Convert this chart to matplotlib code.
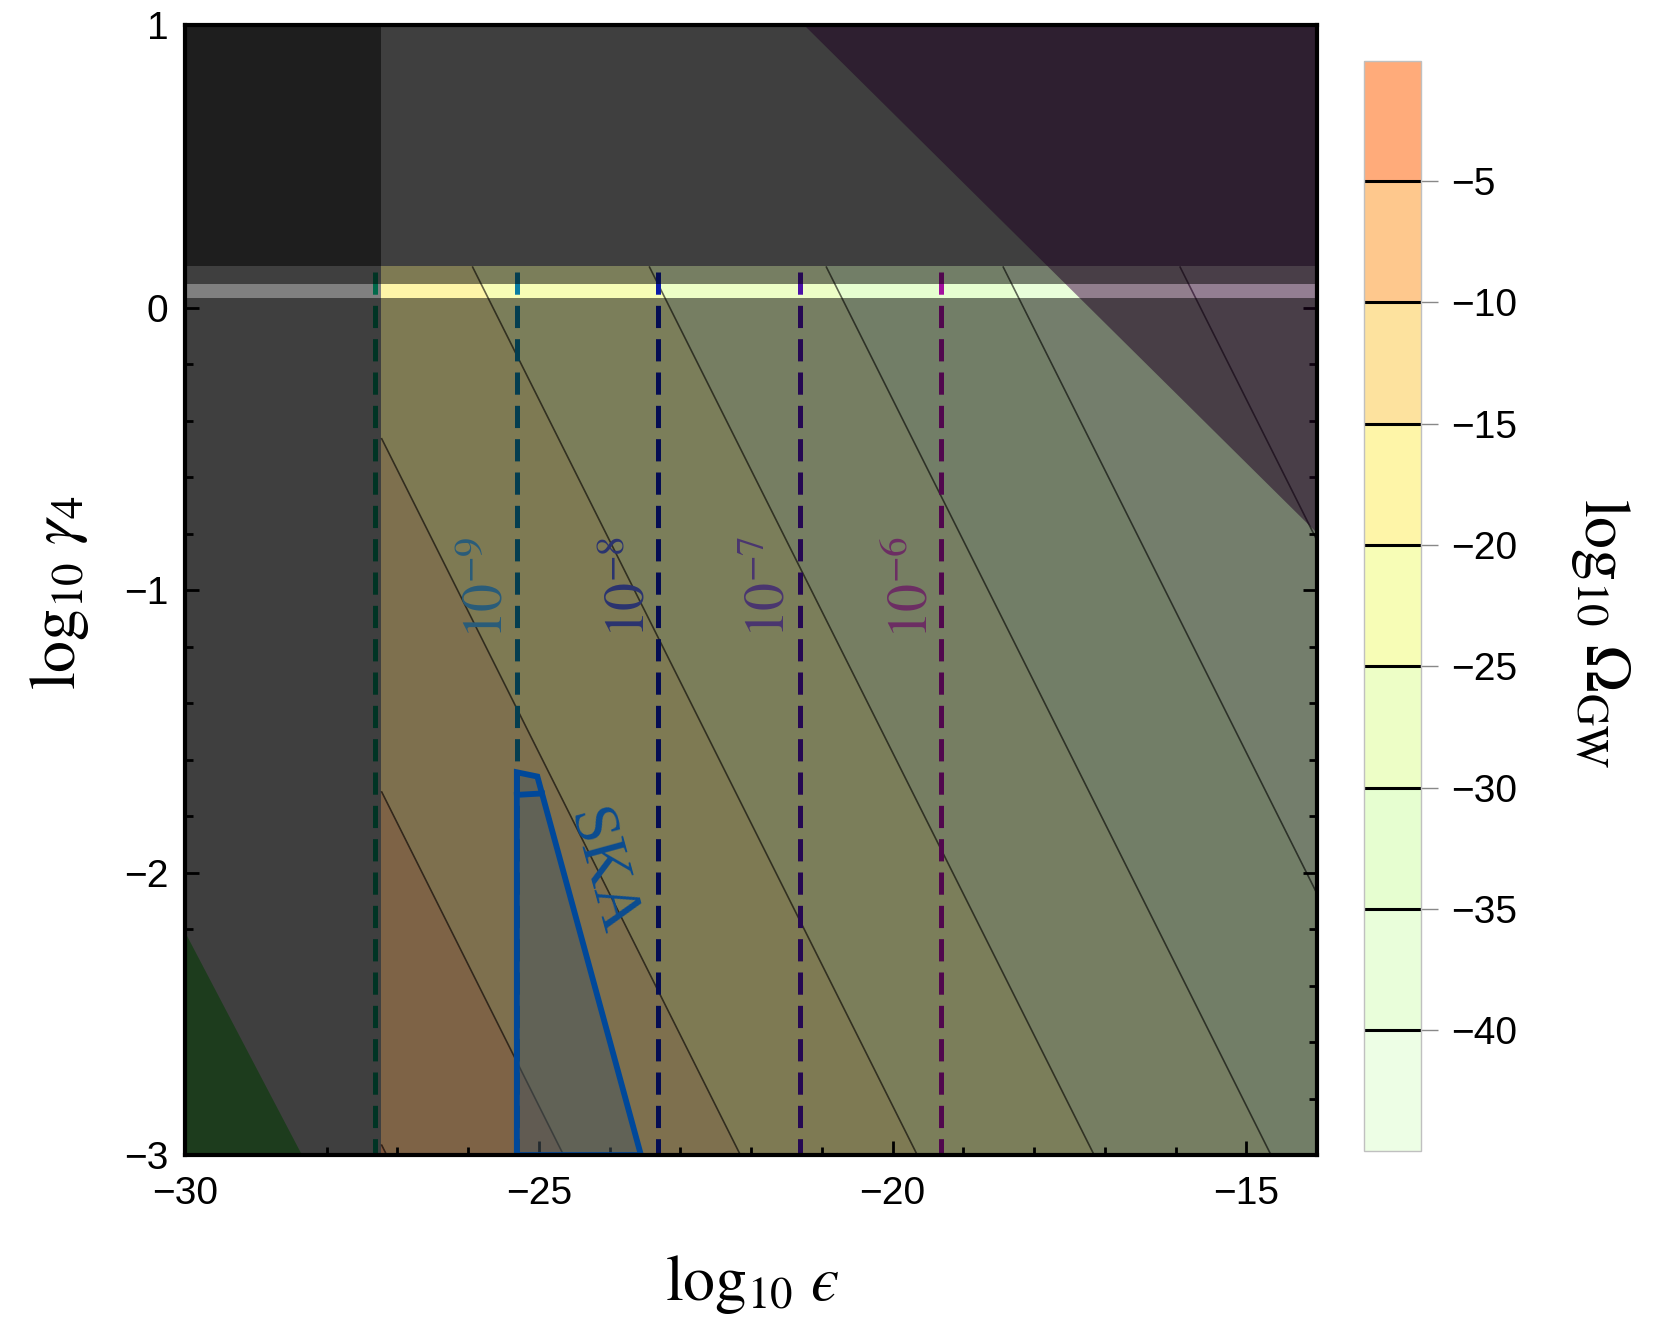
import matplotlib
matplotlib.use("Agg")
import matplotlib.pyplot as plt
from matplotlib.patches import Polygon, Rectangle
from matplotlib.ticker import MultipleLocator

plt.rcParams["font.family"] = ["Liberation Sans", "DejaVu Sans"]
plt.rcParams["mathtext.fontset"] = "stix"
plt.rcParams["lines.scale_dashes"] = False

# log10 Omega_GW read at the corners of the coloured domain
eps_edges = [-27.225, -14.0]
gamma_edges = [-3.0, 0.146]
log_omega = [[-4.85, -31.3],
             [-17.43, -43.88]]

band_levels = [-45.0, -40, -35, -30, -25, -20, -15, -10, -5, -0.07]
band_colors = ["#edfee5", "#e9feda", "#e6fed0", "#edfec6", "#f7fdb6",
               "#fef5a8", "#fde29e", "#fec88d", "#ffab7a"]
line_levels = [-40, -35, -30, -25, -20, -15, -10, -5]

# vertical dashed lines (eps values) and their labels
dash_eps = [-27.31, -25.31, -23.31, -21.31, -19.31]
dash_colors = ["#00694a", "#0a7ea2", "#0c1ca8", "#4c12a8", "#a3109e"]
label_text = [r"$10^{-9}$", r"$10^{-8}$", r"$10^{-7}$", r"$10^{-6}$"]
label_eps = [-25.71, -23.71, -21.72, -19.72]
label_colors = ["#2a5c7a", "#2b3470", "#4a3670", "#6c2e64"]

# SKA region
ska_eps = [-25.31, -25.31, -25.02, -23.556]
ska_gamma = [-3.0, -1.645, -1.66, -3.0]
ska_inner_eps = [-25.31, -24.955]
ska_inner_gamma = [-1.725, -1.72]

# other excluded regions
green_eps = [-30.0, -30.0, -28.35]
green_gamma = [-2.21, -3.0, -3.0]
purple_eps = [-21.25, -14.0, -14.0]
purple_gamma = [1.0, 1.0, -0.797]

strip = (0.034, 0.0835)
roof = 0.146
gray_edge = -27.225

fig = plt.figure(figsize=(16.61, 13.35), dpi=100)
ax = fig.add_axes([0.1114, 0.1348, 0.6815, 0.8464])
ax.set_xlim(-30, -14)
ax.set_ylim(-3, 1)

cf = ax.contourf(eps_edges, gamma_edges, log_omega, levels=band_levels,
                 colors=band_colors, zorder=1)
ax.add_patch(Rectangle((-30, -3), gray_edge + 30, roof + 3, color="#808080", lw=0, zorder=1.5))
ax.add_patch(Polygon(list(zip(green_eps, green_gamma)), color="#3c7a3c", lw=0, zorder=1.6))
ax.contour(eps_edges, gamma_edges, log_omega, levels=line_levels,
           colors="k", linewidths=1.2, linestyles="solid", alpha=0.6, zorder=2)

for x, c in zip(dash_eps, dash_colors):
    ax.plot([x, x], [0.125, -3], color=c, lw=3.6, dashes=(16, 8), zorder=2.2)

ax.add_patch(Polygon(list(zip(purple_eps, purple_gamma)), color="#3b0041",
                     alpha=0.5, lw=0, zorder=3))

# dark veil everywhere except the thin bright strip
ax.add_patch(Rectangle((-30, -3), 16, strip[0] + 3, color="k", alpha=0.5, lw=0, zorder=4))
ax.add_patch(Rectangle((-30, strip[1]), 16, roof - strip[1], color="k", alpha=0.5, lw=0, zorder=4))

# top excluded region
top = Rectangle((-30, roof), 16, 1 - roof, color="#3f3f3f", lw=0, zorder=5)
ax.add_patch(top)
ax.add_patch(Rectangle((-30, roof), gray_edge + 30, 1 - roof, color="#1e1e1e", lw=0, zorder=5.1))
ptop = Polygon(list(zip(purple_eps, purple_gamma)), color="#2e1f30", lw=0, zorder=5.2)
ax.add_patch(ptop)
ptop.set_clip_path(top)

# SKA
ax.add_patch(Polygon(list(zip(ska_eps, ska_gamma)), closed=True, facecolor="#46555e",
                     alpha=0.5, lw=0, zorder=6))
ax.add_patch(Polygon(list(zip(ska_eps, ska_gamma)), closed=True, fill=False,
                     edgecolor="#00489a", lw=4.2, joinstyle="miter", zorder=6.1))
ax.plot(ska_inner_eps, ska_inner_gamma, color="#00489a", lw=4.2, zorder=6.1)
ax.text(-24.12, -2.0, "SKA", rotation=-74.7, rotation_mode="anchor",
        ha="center", va="center", fontsize=46, color="#0b4c90",
        family="Liberation Serif", zorder=6.2)

for t, x, c in zip(label_text, label_eps, label_colors):
    ax.text(x, -0.99, t, rotation=90, ha="center", va="center",
            fontsize=40, color=c, zorder=6.2)

ax.xaxis.set_major_locator(MultipleLocator(5))
ax.xaxis.set_minor_locator(MultipleLocator(1))
ax.yaxis.set_major_locator(MultipleLocator(1))
ax.yaxis.set_minor_locator(MultipleLocator(0.2))
ax.tick_params(which="both", direction="in", top=True, right=True, width=2,
               labelsize=28, zorder=10)
ax.tick_params(which="major", length=10)
ax.tick_params(which="minor", length=6)
ax.tick_params(axis="x", pad=15)
ax.tick_params(axis="y", pad=12)
for s in ax.spines.values():
    s.set_linewidth(3)
    s.set_zorder(10)

fig.text(0.4527, 0.0375, "$\\log_{10}\\,\u03f5$", fontsize=46, ha="center", va="center")
fig.text(0.036, 0.556, r"$\log_{10}\,\gamma_4$", fontsize=46, ha="center",
         va="center", rotation=90)

cax = fig.add_axes([0.8212, 0.1375, 0.0343, 0.8165])
cb = fig.colorbar(cf, cax=cax, spacing="proportional", ticks=line_levels)
for lev in line_levels:
    cax.axhline(lev, color="k", lw=2.2)
cb.outline.set_edgecolor("#c0c0c0")
cb.outline.set_linewidth(1)
cax.tick_params(direction="out", length=12, width=1, color="#888888",
                labelsize=28, pad=10)
fig.text(0.9633, 0.526, r"$\log_{10}\,\Omega_{\rm GW}$", fontsize=46,
         ha="center", va="center", rotation=-90)

fig.savefig("out.png", dpi=100)
